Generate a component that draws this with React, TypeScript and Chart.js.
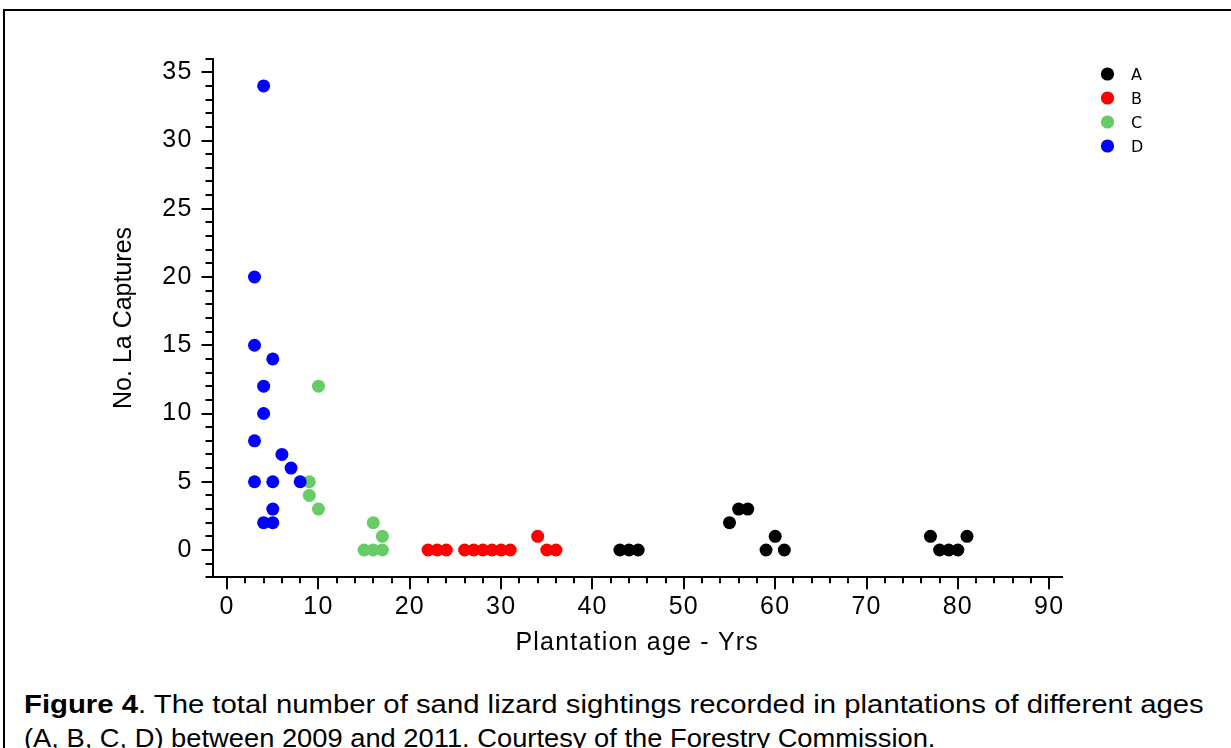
import React, { useEffect, useRef } from "react";
import { Chart, registerables } from "chart.js";

Chart.register(...registerables);

// ---- data ----
const seriesNames = ["A", "B", "C", "D"];
const seriesColors = ["#000000", "#ff0000", "#66cc66", "#0000ff"];

const ageA = [43, 44, 45, 55, 56, 57, 59, 60, 61, 77, 78, 79, 80, 81];
const capturesA = [0, 0, 0, 2, 3, 3, 0, 1, 0, 1, 0, 0, 0, 1];

const ageB = [22, 23, 24, 26, 27, 28, 29, 30, 31, 34, 35, 36];
const capturesB = [0, 0, 0, 0, 0, 0, 0, 0, 0, 1, 0, 0];

const ageC = [9, 9, 10, 10, 15, 16, 16, 17, 17];
const capturesC = [5, 4, 12, 3, 0, 0, 2, 0, 1];

const ageD = [4, 3, 3, 5, 4, 4, 3, 6, 7, 3, 5, 8, 5, 4, 5];
const capturesD = [34, 20, 15, 14, 12, 10, 8, 7, 6, 5, 5, 5, 3, 2, 2];

const xTickLabels = [0, 10, 20, 30, 40, 50, 60, 70, 80, 90];
const yTickLabels = [0, 5, 10, 15, 20, 25, 30, 35];

const xTitle = "Plantation age - Yrs";
const yTitle = "No. La Captures";

const captionBold = "Figure 4";
const captionLine1 = ". The total number of sand lizard sightings recorded in plantations of different ages";
const captionLine2 = "(A, B, C, D) between 2009 and 2011. Courtesy of the Forestry Commission.";

// ---- layout constants ----
const X_MIN = -1.6;
const X_MAX = 91.4;
const Y_MIN = -2;
const Y_MAX = 36;
const X_MINOR_STEP = 2;
const Y_MINOR_STEP = 1;

const FONT = "'Liberation Sans', Arial, Helvetica, sans-serif";

const toPoints = (xs: number[], ys: number[]) => xs.map((x, i) => ({ x, y: ys[i] }));

const tickMarksPlugin = {
  id: "tickMarks",
  afterDraw(chart: any) {
    const { ctx, chartArea } = chart;
    const xs = chart.scales.x;
    const ys = chart.scales.y;
    ctx.save();
    ctx.strokeStyle = "#000";
    ctx.lineWidth = 2;
    ctx.beginPath();
    for (let v = Math.ceil(X_MIN / X_MINOR_STEP) * X_MINOR_STEP; v <= X_MAX; v += X_MINOR_STEP) {
      const px = Math.round(xs.getPixelForValue(v));
      const len = xTickLabels.includes(v) ? 11 : 5;
      ctx.moveTo(px, chartArea.bottom);
      ctx.lineTo(px, chartArea.bottom + 1 + len);
    }
    for (let v = Y_MIN; v <= Y_MAX; v += Y_MINOR_STEP) {
      const py = Math.round(ys.getPixelForValue(v));
      const len = yTickLabels.includes(v) ? 10 : 6;
      ctx.moveTo(chartArea.left, py);
      ctx.lineTo(chartArea.left - 1 - len, py);
    }
    ctx.stroke();
    ctx.restore();
  },
};

const letterSpacingPlugin = {
  id: "letterSpacing",
  beforeDraw(chart: any) {
    const wrap = (scale: any, method: string, spacing: string) => {
      if (!scale || scale["__ls_" + method]) return;
      const orig = scale[method];
      scale[method] = function (...args: any[]) {
        const c = this.ctx;
        const prev = c.letterSpacing;
        c.letterSpacing = spacing;
        orig.apply(this, args);
        c.letterSpacing = prev || "0px";
      };
      scale["__ls_" + method] = true;
    };
    wrap(chart.scales.x, "drawTitle", "1.2px");
    wrap(chart.scales.x, "drawLabels", "1.2px");
    wrap(chart.scales.y, "drawLabels", "1.2px");
  },
};

const sideLegendPlugin = {
  id: "sideLegend",
  afterDraw(chart: any) {
    const { ctx } = chart;
    ctx.save();
    ctx.font = "16px 'DejaVu Sans', sans-serif";
    ctx.textBaseline = "middle";
    ctx.textAlign = "left";
    chart.data.datasets.forEach((ds: any, i: number) => {
      const cy = 74 + 24 * i;
      ctx.beginPath();
      ctx.fillStyle = ds.backgroundColor;
      ctx.arc(1107.5, cy, 6.6, 0, Math.PI * 2);
      ctx.fill();
      ctx.fillStyle = "#000";
      ctx.fillText(ds.label, 1131, cy + 1.5);
    });
    ctx.restore();
  },
};

export default function App() {
  const canvasRef = useRef<HTMLCanvasElement | null>(null);

  useEffect(() => {
    if (!canvasRef.current) return;
    Chart.defaults.font.family = FONT;
    Chart.defaults.color = "#000";

    const seriesX = [ageA, ageB, ageC, ageD];
    const seriesY = [capturesA, capturesB, capturesC, capturesD];

    const chart = new Chart(canvasRef.current, {
      type: "scatter",
      data: {
        datasets: seriesNames.map((name, i) => ({
          label: name,
          data: toPoints(seriesX[i], seriesY[i]),
          backgroundColor: seriesColors[i],
          borderColor: seriesColors[i],
          borderWidth: 0,
          pointRadius: 6.5,
          pointHoverRadius: 6.5,
          order: 4 - i,
        })),
      },
      options: {
        responsive: false,
        animation: false,
        layout: { padding: { left: 102.5, top: 58.6, right: 169, bottom: 12.7 } },
        plugins: {
          legend: { display: false },
          tooltip: { enabled: false },
        },
        scales: {
          x: {
            type: "linear",
            min: X_MIN,
            max: X_MAX,
            afterBuildTicks: (scale: any) => {
              scale.ticks = xTickLabels.map((v) => ({ value: v }));
            },
            afterFit: (scale: any) => {
              scale.height = 90;
            },
            ticks: {
              autoSkip: false,
              maxRotation: 0,
              padding: 15,
              font: { size: 25 },
              color: "#000",
            },
            grid: { display: true, drawOnChartArea: false, drawTicks: false },
            border: { display: true, color: "#000", width: 2 },
            title: {
              display: true,
              text: xTitle,
              font: { size: 25 },
              color: "#000",
              padding: { top: 0, bottom: 9.3 },
            },
          },
          y: {
            type: "linear",
            min: Y_MIN,
            max: Y_MAX,
            afterBuildTicks: (scale: any) => {
              scale.ticks = yTickLabels.map((v) => ({ value: v }));
            },
            afterFit: (scale: any) => {
              scale.width = 110;
            },
            ticks: {
              autoSkip: false,
              padding: 20,
              font: { size: 25 },
              color: "#000",
            },
            grid: { display: true, drawOnChartArea: false, drawTicks: false },
            border: { display: true, color: "#000", width: 2 },
            title: {
              display: true,
              text: yTitle,
              font: { size: 25 },
              color: "#000",
              padding: { top: 6.5, bottom: 0 },
            },
          },
        },
      },
      plugins: [letterSpacingPlugin, tickMarksPlugin, sideLegendPlugin],
    });

    return () => chart.destroy();
  }, []);

  const captionLineStyle: React.CSSProperties = {
    position: "absolute",
    left: 24,
    fontFamily: FONT,
    fontSize: 25,
    lineHeight: "34px",
    color: "#000",
    whiteSpace: "nowrap",
    transformOrigin: "0 0",
  };

  return (
    <div
      style={{
        position: "fixed",
        left: 0,
        top: 0,
        width: 1231,
        height: 748,
        overflow: "hidden",
        background: "#fff",
      }}
    >
      <div
        style={{
          position: "absolute",
          left: 3,
          top: 9,
          width: 1300,
          height: 800,
          border: "2px solid #000",
          boxSizing: "border-box",
        }}
      />
      <canvas
        ref={canvasRef}
        width={1231}
        height={680}
        style={{ position: "absolute", left: 0, top: 0, width: 1231, height: 680 }}
      />
      <div style={{ ...captionLineStyle, top: 687, transform: "scaleX(1.172)" }}>
        <b>{captionBold}</b>
        {captionLine1}
      </div>
      <div style={{ ...captionLineStyle, top: 721, transform: "scaleX(1.092)" }}>{captionLine2}</div>
    </div>
  );
}
